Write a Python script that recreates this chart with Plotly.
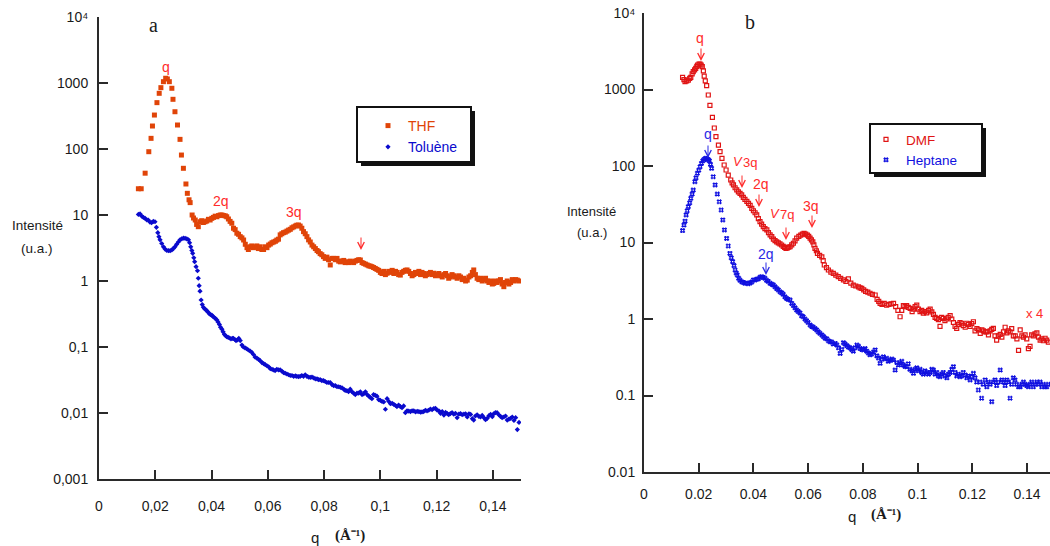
import plotly.graph_objects as go

# ---------------- data ----------------
thf_q = [0.0140, 0.0150, 0.0164, 0.0177, 0.0185, 0.0190, 0.0197, 0.0206, 0.0214, 0.0220,
         0.0229, 0.0237, 0.0243, 0.0250, 0.0259, 0.0263, 0.0270, 0.0279, 0.0288, 0.0293,
         0.0300, 0.0309, 0.0314, 0.0320, 0.0324, 0.0331, 0.0336, 0.0342, 0.0347, 0.0353,
         0.0359, 0.0365, 0.0371, 0.0377, 0.0383, 0.0389, 0.0395, 0.0401, 0.0407, 0.0413,
         0.0419, 0.0425, 0.0431, 0.0437, 0.0443, 0.0449, 0.0454, 0.0460, 0.0466, 0.0472,
         0.0478, 0.0484, 0.0490, 0.0496, 0.0502, 0.0508, 0.0514, 0.0520, 0.0526, 0.0531,
         0.0537, 0.0543, 0.0549, 0.0555, 0.0561, 0.0567, 0.0573, 0.0579, 0.0585, 0.0591,
         0.0597, 0.0603, 0.0609, 0.0615, 0.0621, 0.0627, 0.0632, 0.0638, 0.0644, 0.0650,
         0.0656, 0.0662, 0.0668, 0.0674, 0.0680, 0.0686, 0.0692, 0.0698, 0.0703, 0.0709,
         0.0715, 0.0721, 0.0727, 0.0733, 0.0739, 0.0745, 0.0751, 0.0757, 0.0763, 0.0769,
         0.0775, 0.0780, 0.0786, 0.0792, 0.0798, 0.0804, 0.0810, 0.0816, 0.0822, 0.0828,
         0.0834, 0.0840, 0.0846, 0.0852, 0.0858, 0.0864, 0.0870, 0.0875, 0.0881, 0.0887,
         0.0893, 0.0899, 0.0905, 0.0911, 0.0917, 0.0923, 0.0929, 0.0935, 0.0941, 0.0947,
         0.0953, 0.0959, 0.0964, 0.0970, 0.0976, 0.0982, 0.0988, 0.0994, 0.1000, 0.1006,
         0.1012, 0.1018, 0.1024, 0.1030, 0.1036, 0.1042, 0.1048, 0.1054, 0.1059, 0.1065,
         0.1071, 0.1077, 0.1083, 0.1089, 0.1095, 0.1101, 0.1107, 0.1113, 0.1119, 0.1125,
         0.1131, 0.1137, 0.1143, 0.1148, 0.1154, 0.1160, 0.1166, 0.1172, 0.1178, 0.1184,
         0.1190, 0.1196, 0.1202, 0.1208, 0.1214, 0.1220, 0.1226, 0.1232, 0.1238, 0.1243,
         0.1249, 0.1255, 0.1261, 0.1267, 0.1273, 0.1279, 0.1285, 0.1291, 0.1297, 0.1303,
         0.1309, 0.1315, 0.1321, 0.1327, 0.1332, 0.1338, 0.1344, 0.1350, 0.1356, 0.1362,
         0.1368, 0.1374, 0.1380, 0.1386, 0.1392, 0.1398, 0.1403, 0.1409, 0.1415, 0.1421,
         0.1427, 0.1433, 0.1439, 0.1445, 0.1451, 0.1457, 0.1463, 0.1469, 0.1475, 0.1481,
         0.1487, 0.1493]
thf_i = [25, 25, 43, 91, 145, 223, 327, 504, 698, 850,
         1047, 1180, 1150, 1047, 832, 566, 367, 231, 140, 81,
         51, 29.5, 21.3, 17, 15.4, 10, 9.0, 8.4, 7.2, 6.65,
         7.9, 8.2, 7.7, 7.9, 8.1, 8.6, 8.4, 8.9, 9.2, 9.6,
         9.4, 9.8, 10.0, 10.0, 9.8, 9.7, 9.4, 8.7, 8.0, 7.5,
         6.3, 6.0, 5.3, 5.1, 4.7, 4.5, 4.18, 3.6, 3.2, 3.0,
         3.3, 3.4, 3.2, 3.3, 3.4, 3.1, 3.3, 3.0, 3.0, 3.3,
         3.2, 3.5, 3.63, 3.8, 3.9, 4.0, 4.17, 4.3, 5.0, 5.2,
         5.4, 5.5, 5.7, 5.9, 6.07, 6.4, 6.6, 6.8, 7.0, 7.05,
         6.8, 6.3, 5.6, 5.2, 4.7, 4.2, 3.9, 3.5, 3.3, 3.1,
         2.9, 2.78, 2.6, 2.5, 2.34, 2.2, 2.3, 2.1, 1.75, 2.2,
         2.2, 2.1, 2.2, 2.0, 1.95, 2.0, 2.05, 1.9, 1.96, 1.9,
         2.0, 1.95, 1.9, 2.0, 2.05, 2.1, 2.08, 1.9, 1.85, 1.8,
         1.75, 1.7, 1.68, 1.65, 1.6, 1.55, 1.5, 1.45, 1.35, 1.3,
         1.4, 1.25, 1.31, 1.4, 1.35, 1.45, 1.3, 1.4, 1.35, 1.25,
         1.23, 1.35, 1.4, 1.45, 1.47, 1.4, 1.3, 1.2, 1.25, 1.35,
         1.3, 1.4, 1.25, 1.35, 1.3, 1.2, 1.25, 1.3, 1.35, 1.25,
         1.31, 1.2, 1.25, 1.3, 1.2, 1.15, 1.25, 1.3, 1.2, 1.1,
         1.15, 1.25, 1.2, 1.15, 1.1, 1.2, 1.15, 1.05, 1.1, 1.0,
         1.03, 1.15, 1.2, 1.35, 1.47, 1.25, 1.1, 1.05, 1.1, 1.0,
         1.05, 1.1, 1.0, 0.95, 1.0, 0.9, 0.92, 1.0, 0.95, 1.0,
         1.05, 0.9, 0.82, 0.95, 1.0, 0.9, 0.95, 1.05, 1.0, 1.05,
         1.03, 1.0]

tol_q = [0.0140, 0.0146, 0.0152, 0.0158, 0.0164, 0.0170, 0.0175, 0.0181, 0.0187, 0.0193,
         0.0199, 0.0204, 0.0209, 0.0213, 0.0217, 0.0223, 0.0229, 0.0235, 0.0241, 0.0247,
         0.0253, 0.0259, 0.0264, 0.0270, 0.0276, 0.0282, 0.0288, 0.0294, 0.0300, 0.0306,
         0.0312, 0.0318, 0.0322, 0.0326, 0.0330, 0.0333, 0.0337, 0.0340, 0.0345, 0.0350,
         0.0353, 0.0356, 0.0359, 0.0363, 0.0367, 0.0371, 0.0375, 0.0379, 0.0383, 0.0387,
         0.0392, 0.0396, 0.0401, 0.0405, 0.0410, 0.0414, 0.0419, 0.0423, 0.0428, 0.0432,
         0.0437, 0.0441, 0.0446, 0.0450, 0.0454, 0.0459, 0.0464, 0.0469, 0.0474, 0.0478,
         0.0483, 0.0487, 0.0492, 0.0497, 0.0502, 0.0508, 0.0513, 0.0519, 0.0525, 0.0531,
         0.0537, 0.0543, 0.0549, 0.0555, 0.0561, 0.0567, 0.0573, 0.0579, 0.0585, 0.0591,
         0.0597, 0.0603, 0.0609, 0.0615, 0.0620, 0.0626, 0.0632, 0.0638, 0.0644, 0.0650,
         0.0656, 0.0662, 0.0668, 0.0674, 0.0680, 0.0686, 0.0692, 0.0698, 0.0703, 0.0709,
         0.0715, 0.0721, 0.0727, 0.0733, 0.0739, 0.0745, 0.0751, 0.0757, 0.0763, 0.0769,
         0.0775, 0.0780, 0.0786, 0.0792, 0.0798, 0.0804, 0.0810, 0.0816, 0.0822, 0.0828,
         0.0834, 0.0840, 0.0846, 0.0852, 0.0858, 0.0864, 0.0870, 0.0875, 0.0881, 0.0887,
         0.0893, 0.0899, 0.0905, 0.0911, 0.0917, 0.0923, 0.0929, 0.0935, 0.0941, 0.0947,
         0.0953, 0.0959, 0.0964, 0.0970, 0.0976, 0.0982, 0.0988, 0.0994, 0.1000, 0.1006,
         0.1012, 0.1018, 0.1024, 0.1030, 0.1036, 0.1042, 0.1048, 0.1054, 0.1059, 0.1065,
         0.1071, 0.1077, 0.1083, 0.1089, 0.1095, 0.1101, 0.1107, 0.1113, 0.1119, 0.1125,
         0.1131, 0.1137, 0.1143, 0.1148, 0.1154, 0.1160, 0.1166, 0.1172, 0.1178, 0.1184,
         0.1190, 0.1196, 0.1202, 0.1208, 0.1214, 0.1220, 0.1226, 0.1232, 0.1238, 0.1243,
         0.1249, 0.1255, 0.1261, 0.1267, 0.1273, 0.1279, 0.1285, 0.1291, 0.1297, 0.1303,
         0.1309, 0.1315, 0.1321, 0.1327, 0.1332, 0.1338, 0.1344, 0.1350, 0.1356, 0.1362,
         0.1368, 0.1374, 0.1380, 0.1386, 0.1392, 0.1398, 0.1403, 0.1409, 0.1415, 0.1421,
         0.1427, 0.1433, 0.1439, 0.1445, 0.1451, 0.1457, 0.1463, 0.1469, 0.1475, 0.1481,
         0.1487, 0.1493]
tol_i = [10.2, 10.4, 9.6, 9.2, 8.9, 8.4, 8.4, 7.8, 7.65, 8.0,
         7.9, 6.5, 5.4, 4.7, 4.2, 3.7, 3.3, 3.05, 2.9, 2.88,
         2.88, 2.95, 3.1, 3.3, 3.6, 3.9, 4.2, 4.35, 4.45, 4.43,
         4.35, 4.2, 3.8, 3.3, 2.9, 2.63, 2.25, 1.96, 1.65, 1.43,
         1.1, 0.85, 0.7, 0.515, 0.44, 0.40, 0.38, 0.37, 0.355, 0.34,
         0.32, 0.31, 0.305, 0.29, 0.28, 0.27, 0.257, 0.24, 0.22, 0.2,
         0.186, 0.17, 0.155, 0.148, 0.143, 0.14, 0.137, 0.133, 0.135, 0.135,
         0.13, 0.125, 0.128, 0.135, 0.125, 0.107, 0.1, 0.097, 0.094, 0.09,
         0.087, 0.083, 0.077, 0.070, 0.068, 0.065, 0.062, 0.058, 0.056, 0.054,
         0.052, 0.050, 0.047, 0.046, 0.045, 0.044, 0.046, 0.045, 0.045, 0.043,
         0.041, 0.040, 0.039, 0.038, 0.037, 0.037, 0.036, 0.0365, 0.036, 0.0355,
         0.036, 0.037, 0.036, 0.038, 0.036, 0.035, 0.0346, 0.035, 0.034, 0.033,
         0.033, 0.032, 0.032, 0.031, 0.031, 0.030, 0.029, 0.029, 0.029, 0.027,
         0.026, 0.026, 0.025, 0.025, 0.0245, 0.024, 0.023, 0.022, 0.0218, 0.021,
         0.023, 0.021, 0.020, 0.019, 0.020, 0.020, 0.021, 0.019, 0.0195, 0.021,
         0.019, 0.018, 0.0173, 0.0165, 0.019, 0.0185, 0.018, 0.016, 0.0155, 0.015,
         0.0147, 0.0114, 0.0165, 0.015, 0.0138, 0.014, 0.0135, 0.013, 0.0125, 0.0132,
         0.0125, 0.012, 0.0128, 0.0101, 0.0108, 0.0107, 0.0105, 0.0108, 0.0108, 0.0104,
         0.0106, 0.0105, 0.0103, 0.0104, 0.0105, 0.011, 0.0108, 0.011, 0.0115, 0.0112,
         0.0117, 0.0118, 0.011, 0.0108, 0.0099, 0.0105, 0.0093, 0.0102, 0.0098, 0.0094,
         0.0098, 0.0101, 0.0096, 0.0099, 0.0085, 0.0096, 0.0098, 0.0094, 0.0096, 0.0097,
         0.0087, 0.0097, 0.0095, 0.0082, 0.0078, 0.009, 0.0094, 0.0089, 0.0087, 0.0092,
         0.0085, 0.0079, 0.0083, 0.0091, 0.0095, 0.0088, 0.0097, 0.0101, 0.0101, 0.0094,
         0.0089, 0.0085, 0.0087, 0.009, 0.0078, 0.0081, 0.0083, 0.0087, 0.0077, 0.0085,
         0.0056, 0.0072]

dmf_q = [0.0141, 0.0146, 0.0150, 0.0156, 0.0162, 0.0167, 0.0171, 0.0176, 0.0180, 0.0185,
         0.0189, 0.0193, 0.0196, 0.0201, 0.0205, 0.0209, 0.0213, 0.0217, 0.0220, 0.0224,
         0.0229, 0.0235, 0.0241, 0.0250, 0.0257, 0.0263, 0.0272, 0.0278, 0.0285, 0.0293,
         0.0300, 0.0308, 0.0317, 0.0322, 0.0327, 0.0333, 0.0339, 0.0345, 0.0351, 0.0357,
         0.0363, 0.0369, 0.0376, 0.0382, 0.0388, 0.0394, 0.0400, 0.0406, 0.0412, 0.0418,
         0.0424, 0.0430, 0.0436, 0.0442, 0.0449, 0.0455, 0.0461, 0.0467, 0.0473, 0.0479,
         0.0485, 0.0491, 0.0497, 0.0503, 0.0509, 0.0514, 0.0519, 0.0524, 0.0529, 0.0534,
         0.0540, 0.0546, 0.0552, 0.0558, 0.0566, 0.0573, 0.0579, 0.0585, 0.0591, 0.0597,
         0.0602, 0.0607, 0.0612, 0.0617, 0.0621, 0.0625, 0.0630, 0.0634, 0.0642, 0.0650,
         0.0655, 0.0659, 0.0667, 0.0674, 0.0683, 0.0692, 0.0701, 0.0710, 0.0719, 0.0729,
         0.0738, 0.0747, 0.0756, 0.0765, 0.0774, 0.0784, 0.0790, 0.0796, 0.0803, 0.0810,
         0.0818, 0.0826, 0.0835, 0.0845, 0.0852, 0.0858, 0.0863, 0.0870, 0.0878, 0.0887,
         0.0895, 0.0903, 0.0912, 0.0920, 0.0928, 0.0936, 0.0942, 0.0948, 0.0954, 0.0960,
         0.0966, 0.0973, 0.0980, 0.0985, 0.0991, 0.0997, 0.1003, 0.1009, 0.1015, 0.1021,
         0.1027, 0.1033, 0.1040, 0.1046, 0.1052, 0.1058, 0.1064, 0.1070, 0.1076, 0.1082,
         0.1088, 0.1094, 0.1100, 0.1106, 0.1112, 0.1119, 0.1125, 0.1131, 0.1137, 0.1143,
         0.1149, 0.1155, 0.1161, 0.1167, 0.1174, 0.1180, 0.1186, 0.1192, 0.1198, 0.1204,
         0.1210, 0.1217, 0.1223, 0.1229, 0.1235, 0.1241, 0.1247, 0.1253, 0.1259, 0.1265,
         0.1271, 0.1277, 0.1283, 0.1289, 0.1295, 0.1302, 0.1308, 0.1314, 0.1320, 0.1326,
         0.1332, 0.1338, 0.1344, 0.1350, 0.1357, 0.1363, 0.1369, 0.1375, 0.1381, 0.1387,
         0.1393, 0.1399, 0.1405, 0.1411, 0.1417, 0.1423, 0.1429, 0.1436, 0.1442, 0.1448,
         0.1454, 0.1460, 0.1466, 0.1472, 0.1478]
dmf_i = [1440, 1350, 1265, 1300, 1330, 1400, 1443, 1600, 1710, 1800,
         1893, 2000, 2090, 2150, 2150, 2080, 1985, 1750, 1500, 1300,
         1122, 848, 621, 433, 314, 242, 188, 154, 126, 103,
         88.7, 76.2, 65.6, 60, 56.5, 52, 48.6, 46, 44, 42,
         39, 36.7, 34.5, 32.5, 30.5, 28, 26, 24.5, 22.9, 20.5,
         18.7, 17.4, 16.1, 15.2, 14.6, 13.5, 12.6, 11.9, 11.1, 10.6,
         10.2, 9.9, 9.6, 9.27, 8.9, 8.6, 8.4, 8.5, 8.7, 8.8,
         9.3, 9.77, 10.5, 11.4, 12.0, 12.5, 12.9, 13.2, 12.9, 12.5,
         12.0, 11.4, 10.8, 10.2, 9.3, 8.4, 7.8, 7.2, 6.8, 6.5,
         5.8, 5.08, 4.7, 4.37, 4.1, 3.95, 3.75, 3.57, 3.4, 3.24,
         3.1, 3.35, 2.95, 2.78, 2.7, 2.63, 2.55, 2.51, 2.4, 2.3,
         2.25, 2.17, 2.1, 2.06, 1.8, 1.7, 1.6, 1.55, 1.6, 1.52,
         1.55, 1.58, 1.6, 1.45, 1.3, 1.07, 1.3, 1.5, 1.45, 1.5,
         1.42, 1.38, 1.25, 1.35, 1.45, 1.52, 1.35, 1.25, 1.3, 1.19,
         1.25, 1.2, 1.3, 1.35, 1.24, 1.15, 1.05, 1.02, 0.98, 0.8,
         1.05, 1.02, 0.95, 1.0, 1.05, 1.11, 1.0, 0.9, 0.8, 0.755,
         0.85, 0.9, 0.88, 0.82, 0.78, 0.88, 0.85, 0.8, 0.87, 0.92,
         0.7, 0.75, 0.72, 0.65, 0.72, 0.7, 0.68, 0.68, 0.62, 0.7,
         0.73, 0.755, 0.6, 0.53, 0.6, 0.63, 0.58, 0.68, 0.78, 0.66,
         0.7, 0.68, 0.75, 0.6, 0.6, 0.55, 0.39, 0.72, 0.6, 0.58,
         0.62, 0.55, 0.41, 0.44, 0.62, 0.6, 0.64, 0.66, 0.58, 0.53,
         0.55, 0.52, 0.56, 0.53, 0.5]

hep_q = [0.0141, 0.0146, 0.0150, 0.0154, 0.0158, 0.0162, 0.0167, 0.0171, 0.0176, 0.0180,
         0.0186, 0.0190, 0.0195, 0.0200, 0.0205, 0.0210, 0.0215, 0.0220, 0.0224, 0.0227,
         0.0231, 0.0235, 0.0239, 0.0243, 0.0247, 0.0253, 0.0260, 0.0268, 0.0275, 0.0282,
         0.0288, 0.0294, 0.0302, 0.0308, 0.0314, 0.0319, 0.0324, 0.0329, 0.0333, 0.0337,
         0.0341, 0.0346, 0.0351, 0.0357, 0.0363, 0.0369, 0.0375, 0.0381, 0.0388, 0.0394,
         0.0400, 0.0406, 0.0412, 0.0418, 0.0424, 0.0430, 0.0436, 0.0442, 0.0448, 0.0454,
         0.0461, 0.0467, 0.0473, 0.0479, 0.0485, 0.0491, 0.0497, 0.0503, 0.0509, 0.0515,
         0.0521, 0.0527, 0.0534, 0.0540, 0.0546, 0.0552, 0.0558, 0.0564, 0.0570, 0.0576,
         0.0582, 0.0588, 0.0594, 0.0600, 0.0607, 0.0613, 0.0619, 0.0625, 0.0631, 0.0637,
         0.0643, 0.0650, 0.0656, 0.0662, 0.0668, 0.0674, 0.0680, 0.0686, 0.0692, 0.0699,
         0.0705, 0.0711, 0.0717, 0.0723, 0.0729, 0.0735, 0.0741, 0.0747, 0.0753, 0.0759,
         0.0765, 0.0771, 0.0778, 0.0784, 0.0790, 0.0796, 0.0802, 0.0808, 0.0814, 0.0820,
         0.0826, 0.0832, 0.0839, 0.0845, 0.0851, 0.0857, 0.0863, 0.0869, 0.0875, 0.0881,
         0.0887, 0.0893, 0.0899, 0.0906, 0.0912, 0.0918, 0.0924, 0.0930, 0.0936, 0.0942,
         0.0948, 0.0954, 0.0960, 0.0966, 0.0972, 0.0979, 0.0985, 0.0991, 0.0997, 0.1003,
         0.1009, 0.1015, 0.1021, 0.1027, 0.1034, 0.1040, 0.1046, 0.1052, 0.1058, 0.1064,
         0.1070, 0.1076, 0.1082, 0.1088, 0.1094, 0.1100, 0.1107, 0.1113, 0.1119, 0.1125,
         0.1131, 0.1137, 0.1143, 0.1149, 0.1155, 0.1161, 0.1167, 0.1174, 0.1180, 0.1186,
         0.1192, 0.1198, 0.1204, 0.1210, 0.1216, 0.1222, 0.1228, 0.1234, 0.1240, 0.1247,
         0.1253, 0.1259, 0.1265, 0.1271, 0.1277, 0.1283, 0.1289, 0.1295, 0.1302, 0.1308,
         0.1314, 0.1320, 0.1326, 0.1332, 0.1338, 0.1344, 0.1350, 0.1356, 0.1362, 0.1369,
         0.1375, 0.1381, 0.1387, 0.1393, 0.1399, 0.1405, 0.1411, 0.1417, 0.1423, 0.1429,
         0.1436, 0.1442, 0.1448, 0.1454, 0.1460, 0.1466, 0.1472, 0.1478]
hep_i = [14.3, 16.9, 19, 22.9, 26, 29.4, 33, 37.8, 43, 48.5,
         62.4, 70, 80.4, 88, 97.8, 108, 117, 122, 125, 126,
         124, 121, 117, 105, 93.3, 72.4, 56.5, 43, 34.1, 26.6,
         19.7, 14.6, 11.3, 9, 7.2, 6.3, 5.63, 5.0, 4.37, 4.0,
         3.76, 3.4, 3.2, 3.07, 3.0, 2.93, 2.95, 2.9, 2.96, 3.05,
         3.24, 3.24, 3.3, 3.35, 3.51, 3.57, 3.5, 3.4, 3.2, 3.1,
         2.93, 2.85, 2.78, 2.63, 2.5, 2.4, 2.27, 2.2, 2.1, 1.95,
         1.86, 1.8, 1.77, 1.6, 1.5, 1.4, 1.31, 1.25, 1.2, 1.1,
         1.07, 1.0, 0.95, 0.9, 0.836, 0.8, 0.78, 0.75, 0.72, 0.68,
         0.65, 0.62, 0.59, 0.56, 0.55, 0.52, 0.505, 0.5, 0.47, 0.48,
         0.457, 0.42, 0.355, 0.4, 0.49, 0.47, 0.45, 0.43, 0.42, 0.4,
         0.38, 0.42, 0.457, 0.44, 0.41, 0.4, 0.394, 0.41, 0.38, 0.36,
         0.34, 0.35, 0.37, 0.394, 0.33, 0.31, 0.263, 0.3, 0.32, 0.3,
         0.307, 0.28, 0.29, 0.3, 0.29, 0.215, 0.27, 0.25, 0.263, 0.28,
         0.25, 0.24, 0.238, 0.26, 0.22, 0.21, 0.195, 0.22, 0.23, 0.21,
         0.22, 0.2, 0.19, 0.21, 0.2, 0.19, 0.2, 0.22, 0.215, 0.19,
         0.2, 0.18, 0.176, 0.19, 0.2, 0.18, 0.17, 0.19, 0.2, 0.22,
         0.238, 0.2, 0.18, 0.19, 0.176, 0.18, 0.2, 0.185, 0.17, 0.18,
         0.16, 0.175, 0.195, 0.17, 0.15, 0.118, 0.15, 0.092, 0.14, 0.16,
         0.13, 0.15, 0.14, 0.083, 0.15, 0.16, 0.135, 0.15, 0.215, 0.16,
         0.15, 0.135, 0.16, 0.15, 0.092, 0.14, 0.17, 0.16, 0.14, 0.13,
         0.13, 0.14, 0.15, 0.14, 0.135, 0.13, 0.14, 0.15, 0.13, 0.14,
         0.15, 0.14, 0.15, 0.13, 0.14, 0.13, 0.13, 0.14]

x_ticks = [0, 0.02, 0.04, 0.06, 0.08, 0.1, 0.12, 0.14]
x_text_a = ["0", "0,02", "0,04", "0,06", "0,08", "0,1", "0,12", "0,14"]
x_text_b = ["0", "0.02", "0.04", "0.06", "0.08", "0.1", "0.12", "0.14"]
y_ticks_a = [0.001, 0.01, 0.1, 1, 10, 100, 1000, 10000]
y_text_a = ["0,001", "0,01", "0,1", "1", "10", "100", "1000", "10⁴"]
y_ticks_b = [0.01, 0.1, 1, 10, 100, 1000, 10000]
y_text_b = ["0.01", "0.1", "1", "10", "100", "1000", "10⁴"]

# ---------------- styling ----------------
W, H = 1050, 546
SANS = "Liberation Sans, Arial, sans-serif"
SERIF = "Liberation Serif, Times New Roman, serif"
C_THF = "#E04408"
C_TOL = "#0A0ACD"
C_DMF = "#E01414"
C_HEP = "#1010E0"
C_ANN_R = "#FF2B2B"
C_ANN_B = "#2A2AE6"


def px(x):
    return x / W


def py(y):
    return 1 - y / H


fig = go.Figure()

fig.add_trace(go.Scatter(x=thf_q, y=thf_i, mode="markers", name="<span style='color:%s'>THF</span>" % C_THF,
                         marker=dict(symbol="square", size=5, color=C_THF), xaxis="x", yaxis="y", legend="legend"))
fig.add_trace(go.Scatter(x=tol_q, y=tol_i, mode="markers", name="<span style='color:%s'>Toluène</span>" % C_TOL,
                         marker=dict(symbol="diamond", size=4, color=C_TOL), xaxis="x", yaxis="y", legend="legend"))
fig.add_trace(go.Scatter(x=dmf_q, y=dmf_i, mode="markers", name="<span style='color:%s'>DMF</span>" % C_DMF,
                         marker=dict(symbol="square-open", size=4, color=C_DMF, line=dict(width=1.2)),
                         xaxis="x2", yaxis="y2", legend="legend2"))
fig.add_trace(go.Scatter(x=hep_q, y=hep_i, mode="markers", name="<span style='color:%s'>Heptane</span>" % C_HEP,
                         marker=dict(symbol="hash-open", size=5, color=C_HEP, line=dict(width=1.2, color=C_HEP)),
                         xaxis="x2", yaxis="y2", legend="legend2"))

axis_common = dict(showline=True, linecolor="#2a2a2a", linewidth=2, ticks="inside", ticklen=9,
                   tickwidth=1.5, tickcolor="#2a2a2a", showgrid=False, zeroline=False, automargin=False,
                   tickfont=dict(family=SANS, size=14, color="#1a1a1a"))

fig.update_layout(
    width=W, height=H, margin=dict(l=0, r=0, t=0, b=0, autoexpand=False),
    paper_bgcolor="white", plot_bgcolor="white",
    xaxis=dict(domain=[px(99), px(521)], range=[0, 0.15], tickvals=x_ticks, ticktext=x_text_a,
               anchor="y", ticklabelstandoff=13, **axis_common),
    yaxis=dict(domain=[py(479), py(17)], type="log", range=[-3, 4], tickvals=y_ticks_a, ticktext=y_text_a,
               anchor="x", ticklabelstandoff=6, **axis_common),
    xaxis2=dict(domain=[px(644), 1.0], range=[0, 0.1484], tickvals=x_ticks, ticktext=x_text_b,
                anchor="y2", ticklabelstandoff=8, **axis_common),
    yaxis2=dict(domain=[py(472), py(13)], type="log", range=[-2, 4], tickvals=y_ticks_b, ticktext=y_text_b,
                anchor="x2", ticklabelstandoff=4, **axis_common),
    legend=dict(x=px(368), y=py(110), xanchor="left", yanchor="top", bgcolor="rgba(0,0,0,0)",
                borderwidth=0, font=dict(family=SANS, size=14), tracegroupgap=0, itemwidth=30),
    legend2=dict(x=px(866), y=py(124), xanchor="left", yanchor="top", bgcolor="rgba(0,0,0,0)",
                 borderwidth=0, font=dict(family=SANS, size=13.5), tracegroupgap=0, itemwidth=30),
    showlegend=True,
)

# legend frames with drop shadow
shapes = []
for (x0, y0, x1, y1) in [(357, 107, 471, 162), (870, 124, 982, 173)]:
    shapes.append(dict(type="rect", xref="paper", yref="paper", x0=px(x0 + 4), x1=px(x1 + 4),
                       y0=py(y1 + 4), y1=py(y0 + 4), fillcolor="#111", line=dict(width=0), layer="above"))
    shapes.append(dict(type="rect", xref="paper", yref="paper", x0=px(x0), x1=px(x1),
                       y0=py(y1), y1=py(y0), fillcolor="white", line=dict(color="#111", width=2), layer="above"))
fig.update_layout(shapes=shapes)

ann = []


def text(x, y, s, color="#1a1a1a", size=14, family=SANS, weight="normal", style="normal"):
    ann.append(dict(x=px(x), y=py(y), xref="paper", yref="paper", text=s, showarrow=False,
                    xanchor="center", yanchor="middle",
                    font=dict(family=family, size=size, color=color, weight=weight, style=style)))


def arrow(tip_x, tip_y, color, length=14):
    # downward pointing arrow whose tip is at (tip_x, tip_y) page pixels
    ann.append(dict(x=px(tip_x), y=py(tip_y), xref="paper", yref="paper", text="",
                    showarrow=True, ax=0, ay=-length, arrowhead=5, arrowsize=1.3, arrowwidth=1,
                    arrowcolor=color, standoff=0))


# panel letters
text(153, 25, "a", size=20, family=SERIF)
text(750, 22, "b", size=20, family=SERIF)
# y titles
text(37, 225, "Intensité", size=13.5)
text(37, 249, "(u.a.)", size=13.5)
text(591, 212, "Intensité", size=13)
text(592, 232, "(u.a.)", size=13)
# x titles
text(315, 537, "q", size=15)
text(350, 535, "(Å⁻¹)", size=15, family=SERIF, weight="bold")
text(852, 516, "q", size=15)
text(886, 514, "(Å⁻¹)", size=15, family=SERIF, weight="bold")
# panel a peak labels
text(166, 67, "q", C_ANN_R)
text(221, 201, "2q", C_ANN_R)
text(294, 212, "3q", C_ANN_R)
arrow(361, 250, C_ANN_R)
# panel b peak labels
text(700, 38, "q", C_ANN_R)
arrow(701, 61, C_ANN_R)
text(708, 134, "q", C_ANN_B)
arrow(708, 158, C_ANN_B)
text(738, 161, "V", C_ANN_R, size=13, style="italic")
text(750, 162, "3q", C_ANN_R, size=13)
arrow(742, 188, C_ANN_R)
text(761, 184, "2q", C_ANN_R)
arrow(759, 207, C_ANN_R)
text(775, 214, "V", C_ANN_R, size=13, style="italic")
text(787, 215, "7q", C_ANN_R, size=13)
arrow(786, 240, C_ANN_R)
text(811, 206, "3q", C_ANN_R)
arrow(812, 228, C_ANN_R)
text(766, 254, "2q", C_ANN_B)
arrow(766, 275, C_ANN_B)
text(1034, 313, "x 4", C_ANN_R, size=13)
fig.update_layout(annotations=ann)

fig.write_html("out.html", config={"displayModeBar": False},
               post_script="document.body.style.margin='0';")
